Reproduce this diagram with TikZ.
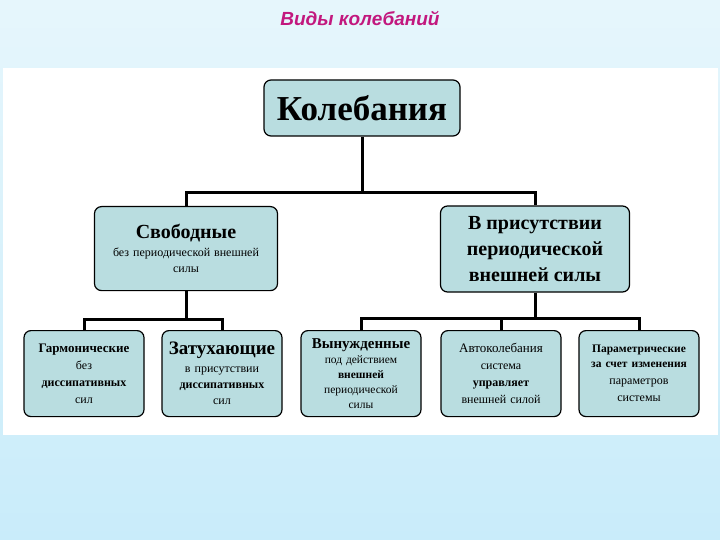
\documentclass[tikz,border=0pt]{standalone}
\usepackage{fontspec}
\setmainfont{Liberation Serif}
\newfontfamily\titlefont{Liberation Sans}
\definecolor{bgtop}{HTML}{E6F6FC}
\definecolor{bgbot}{HTML}{C9ECFA}
\definecolor{boxfill}{HTML}{B9DDE0}
\definecolor{titlecol}{HTML}{C2187E}
\begin{document}
\begin{tikzpicture}[x=1pt,y=-1pt,
  box/.style={draw=black,line width=1.2pt,fill=boxfill,rounded corners=7pt,align=center,inner sep=2pt},
  conn/.style={line width=3pt}]
\useasboundingbox (0,0) rectangle (720,540);
\shade[top color=bgtop,bottom color=bgbot] (0,0) rectangle (720,540);
\fill[white] (3,68) rectangle (718,435);
\node[font=\titlefont\bfseries\itshape\fontsize{19}{22}\selectfont,text=titlecol] (title) at (360,18) {Виды колебаний};
% boxes
\node[box,minimum width=196pt,minimum height=56pt,font=\bfseries\fontsize{35}{38}\selectfont] (root) at (362,108) {Колебания};
\node[box,minimum width=183pt,minimum height=84pt,anchor=north,text width=178pt,font=\fontsize{12}{16}\selectfont] (free) at (186,206)
 {{\bfseries\fontsize{20}{22}\selectfont Свободные}\\[2pt]без периодической внешней\\силы\\[18pt]};
\node[box,minimum width=189pt,minimum height=86pt,font=\bfseries\fontsize{20}{26}\selectfont] (forced) at (535,249)
 {В присутствии\\периодической\\внешней силы};
\tikzset{small/.style={box,minimum width=118pt,minimum height=86pt,text width=116pt,anchor=north,font=\fontsize{12}{17}\selectfont}}
\node[small] (b1) at (84,330) {{\bfseries\fontsize{13}{15}\selectfont Гармонические}\\без\\\textbf{диссипативных}\\сил\\[2pt]};
\node[small,minimum width=120pt,font=\fontsize{12}{16}\selectfont] (b2) at (222,330) {{\bfseries\fontsize{19}{21}\selectfont Затухающие}\\[2pt]в присутствии\\\textbf{диссипативных}\\сил};
\node[small,minimum width=117pt,font=\fontsize{11.5}{15}\selectfont] (b3) at (361,330) {{\bfseries\fontsize{15}{16}\selectfont Вынужденные}\\под действием\\\textbf{внешней}\\периодической\\силы};
\node[small] (b4) at (501,330) {{\fontsize{13}{15}\selectfont Автоколебания}\\система\\\textbf{управляет}\\внешней силой\\[4pt]};
\node[small] (b5) at (639,330) {{\bfseries\fontsize{11.5}{13}\selectfont Параметрические}\\[-2pt]{\bfseries\fontsize{11.5}{13}\selectfont за счет изменения}\\параметров\\системы\\[10pt]};
% connectors
\draw[conn] (root.south) -- ++(0,56) coordinate (j0);
\draw[conn] (free.north) |- (j0) -| (forced.north);
\draw[conn] (free.south) -- ++(0,28) coordinate (j1);
\draw[conn] (b1.north) |- (j1) -| (b2.north);
\draw[conn] (forced.south) -- ++(0,26) coordinate (j2);
\draw[conn] (b3.north) |- (j2) -| (b5.north);
\draw[conn] (j2) -| (b4.north);
\end{tikzpicture}
\end{document}
